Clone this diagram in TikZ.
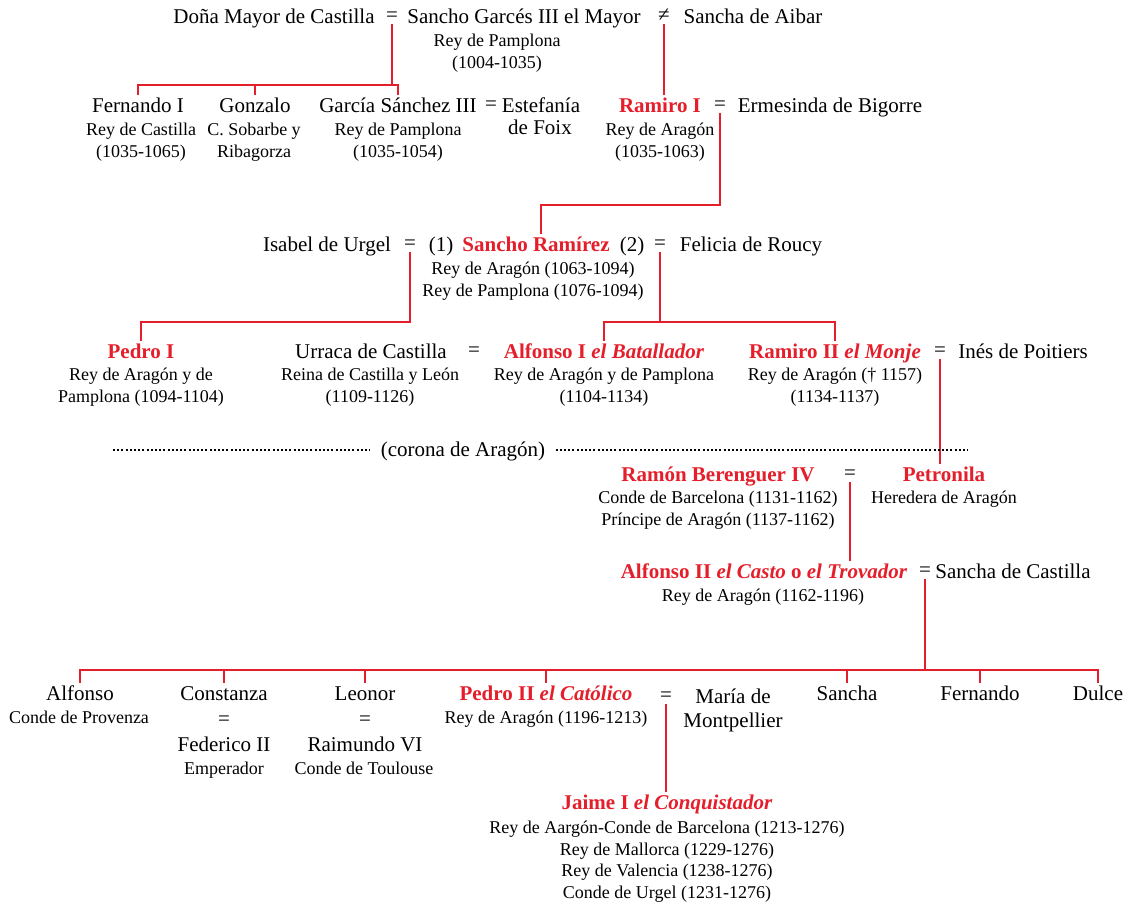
\documentclass[tikz,border=0pt]{standalone}
\usepackage{fontspec}
\setmainfont{Liberation Serif}
\usepackage{tikz}
\usetikzlibrary{calc}
\definecolor{rojo}{RGB}{228,30,42}

\tikzset{
  pers/.style={font=\fontsize{10.5}{12.6}\selectfont,text height=7pt,text depth=0pt,inner sep=2pt},
  rey/.style={pers,text=rojo,font=\fontsize{10.5}{12.6}\selectfont\bfseries},
  igual/.style={font=\fontsize{10.5}{12.6}\selectfont,text height=4.5pt,text depth=0pt,inner sep=1pt},
  titulo/.style={font=\fontsize{9}{10.8}\selectfont,align=center,anchor=north,inner sep=0pt},
  linea/.style={draw=rojo,line width=0.8pt},
  puntos/.style={line width=1.1pt,dash pattern=on 1pt off 1.1pt}
}

\begin{document}
\begin{tikzpicture}[x=0.5pt,y=-0.5pt]
    \useasboundingbox (0,0) rectangle (1132,903);
    % Sancho III el Mayor
    \node[pers,at={(274,17)}] (dona) {Doña Mayor de Castilla};
    \node[igual,at={(392,17)}] (eq1) {=};
    \node[pers,at={(524,17)}] (sgar) {Sancho Garcés III el Mayor};
    \node[titulo,at={(497,34)}] (sgar-t) {Rey de Pamplona\\(1004-1035)};
    \node[igual,at={(664,17)}] (neq) {≠};
    \node[pers,at={(753,17)}] (aibar) {Sancha de Aibar};
    % hijos
    \node[pers,at={(138,106)}] (fern) {Fernando I};
    \node[titulo,at={(141,123)}] (fern-t) {Rey de Castilla\\(1035-1065)};
    \node[pers,at={(255,106)}] (gonz) {Gonzalo};
    \node[titulo,at={(254,123)}] (gonz-t) {C. Sobarbe y\\Ribagorza};
    \node[pers,at={(398,106)}] (garc) {García Sánchez III};
    \node[titulo,at={(398,123)}] (garc-t) {Rey de Pamplona\\(1035-1054)};
    \node[igual,at={(491,106)}] (eqg) {=};
    \node[pers,at={(541,106)}] (este) {Estefanía};
    \node[pers,at={(540,128)}] (foix) {de Foix};
    \node[rey,at={(660,106)}] (rami) {Ramiro I};
    \node[titulo,at={(660,123)}] (rami-t) {Rey de Aragón\\(1035-1063)};
    \node[igual,at={(720,106)}] (eqr) {=};
    \node[pers,at={(830,106)}] (erme) {Ermesinda de Bigorre};
    % Sancho Ramirez
    \node[pers,at={(327,245)}] (isab) {Isabel de Urgel};
    \node[igual,at={(410,245)}] (eqi) {=};
    \node[pers,at={(441,245)}] (uno) {(1)};
    \node[rey,at={(536,245)}] (sanr) {Sancho Ramírez};
    \node[pers,at={(632,245)}] (dos) {(2)};
    \node[igual,at={(660,245)}] (eqf) {=};
    \node[pers,at={(751,245)}] (feli) {Felicia de Roucy};
    \node[titulo,at={(533,262)}] (sanr-t) {Rey de Aragón (1063-1094)\\Rey de Pamplona (1076-1094)};
    % nietos
    \node[rey,at={(141,352)}] (ped1) {Pedro I};
    \node[titulo,at={(141,368)}] (ped1-t) {Rey de Aragón y de\\Pamplona (1094-1104)};
    \node[pers,at={(371,352)}] (urra) {Urraca de Castilla};
    \node[titulo,at={(370,368)}] (urra-t) {Reina de Castilla y León\\(1109-1126)};
    \node[igual,at={(474,352)}] (equ) {=};
    \node[rey,at={(604,352)}] (alf1) {Alfonso I \textit{el Batallador}};
    \node[titulo,at={(604,368)}] (alf1-t) {Rey de Aragón y de Pamplona\\(1104-1134)};
    \node[rey,at={(835,352)}] (ram2) {Ramiro II \textit{el Monje}};
    \node[titulo,at={(835,368)}] (ram2-t) {Rey de Aragón († 1157)\\(1134-1137)};
    \node[igual,at={(940,352)}] (eqin) {=};
    \node[pers,at={(1023,352)}] (ines) {Inés de Poitiers};
    % corona
    \node[pers,at={(463,450)}] (corona) {(corona de Aragón)};
    \coordinate (pi) at (113,450);
    \coordinate (pd) at (968,450);
    \node[rey,at={(718,475)}] (ramb) {Ramón Berenguer IV};
    \node[titulo,at={(718,491)}] (ramb-t) {Conde de Barcelona (1131-1162)\\Príncipe de Aragón (1137-1162)};
    \node[igual,at={(850,475)}] (eqrb) {=};
    \node[rey,at={(944,475)}] (petr) {Petronila};
    \node[titulo,at={(944,491)}] (petr-t) {Heredera de Aragón};
    \node[rey,at={(764,572)}] (alf2) {Alfonso II \textit{el Casto} o \textit{el Trovador}};
    \node[titulo,at={(763,589)}] (alf2-t) {Rey de Aragón (1162-1196)};
    \node[igual,at={(925,572)}] (eqs) {=};
    \node[pers,at={(1013,572)}] (scas) {Sancha de Castilla};
    % hijos de Alfonso II
    \node[pers,at={(80,694)}] (alfo) {Alfonso};
    \node[titulo,at={(79,711)}] (alfo-t) {Conde de Provenza};
    \node[pers,at={(224,694)}] (cons) {Constanza};
    \node[igual,at={(224,721)}] (eqco) {=};
    \node[pers,at={(224,745)}] (fede) {Federico II};
    \node[titulo,at={(224,762)}] (fede-t) {Emperador};
    \node[pers,at={(365,694)}] (leon) {Leonor};
    \node[igual,at={(365,721)}] (eqle) {=};
    \node[pers,at={(365,745)}] (raim) {Raimundo VI};
    \node[titulo,at={(364,762)}] (raim-t) {Conde de Toulouse};
    \node[rey,at={(546,694)}] (ped2) {Pedro II \textit{el Católico}};
    \node[titulo,at={(546,711)}] (ped2-t) {Rey de Aragón (1196-1213)};
    \node[igual,at={(666,697)}] (eqp) {=};
    \node[pers,at={(733,697)}] (mari) {María de};
    \node[pers,at={(733,721)}] (mont) {Montpellier};
    \node[pers,at={(847,694)}] (sanc) {Sancha};
    \node[pers,at={(980,694)}] (fer2) {Fernando};
    \node[pers,at={(1098,694)}] (dulc) {Dulce};
    \node[rey,at={(667,803)}] (jaim) {Jaime I \textit{el Conquistador}};
    \node[titulo,at={(667,821)},font=\fontsize{9}{10.7}\selectfont] (jaim-t) {Rey de Aargón-Conde de Barcelona (1213-1276)\\Rey de Mallorca (1229-1276)\\Rey de Valencia (1238-1276)\\Conde de Urgel (1231-1276)};

    % lineas
    \coordinate (b1) at (392,85);
    \draw[linea] (eq1) -- (b1);
    \draw[linea] (fern) |- (b1) -| (garc);
    \draw[linea] (gonz) -- (gonz |- b1);
    \draw[linea] (neq) -- (neq |- rami.north);
    \coordinate (b2) at (541,205);
    \draw[linea] (eqr) |- (b2) -- (sanr.north -| b2);
    \coordinate (b3) at (0,322);
    \draw[linea] (eqi) -- (eqi |- b3) -| (ped1);
    \draw[linea] (eqf) -- (eqf |- b3);
    \draw[linea] (alf1) |- (eqf |- b3) -| (ram2);
    \draw[linea] (eqin) -- (eqin |- petr.north);
    \draw[linea] (eqrb) -- (eqrb |- alf2.north);
    \coordinate (b4) at (925,670);
    \draw[linea] (eqs) -- (b4);
    \draw[linea] (alfo) |- (b4) -| (dulc);
    \foreach \h in {cons,leon,ped2,sanc,fer2}
    \draw[linea] (\h) -- (\h |- b4);
    \draw[linea] (eqp) -- (eqp |- jaim.north);
    \draw[puntos,shorten >=3pt] (pi) -- (corona);
    \draw[puntos,shorten <=3pt] (corona) -- (pd);
\end{tikzpicture}
\end{document}
